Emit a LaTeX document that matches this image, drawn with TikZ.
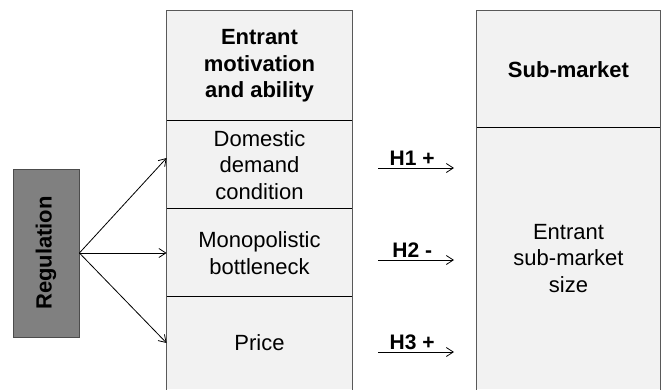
\documentclass[tikz,border=0pt]{standalone}
\usepackage{fontspec}
\setmainfont{Liberation Sans}
\usetikzlibrary{positioning,arrows.meta}

\tikzset{
cell/.style={fill=gray!10,inner sep=0pt,align=center,font=\fontsize{22}{26.5}\selectfont},
head/.style={cell,font=\bfseries\fontsize{22}{26.5}\selectfont},
hyp/.style={font=\bfseries\fontsize{21}{25}\selectfont,inner sep=2pt},
rim/.style={draw=black!65,line width=0.9pt}
}

\begin{document}
\begin{tikzpicture}[x=1pt,y=-1pt,line width=0.8pt,>={Straight Barb[length=7pt,width=9pt,line width=0.8pt]}]
\useasboundingbox (0,0) rectangle (662,389);
% left column
\node[head,minimum width=185,minimum height=110](motiv) at (259.5,66) {Entrant\\motivation\\and ability};
\node[cell,minimum width=185,minimum height=88](dom) at (259.5,165) {Domestic\\demand\\condition};
\node[cell,minimum width=185,minimum height=88](mono) at (259.5,253) {Monopolistic\\bottleneck};
\node[cell,minimum width=185,minimum height=92](price) at (259.5,343) {Price};
\draw[rim] (motiv.west |- 0,390) -- (motiv.north west) -- (motiv.north east) -- (motiv.east |- 0,390);
\draw (dom.north west) -- (dom.north east);
\draw (mono.north west) -- (mono.north east);
\draw (price.north west) -- (price.north east);
% right column
\node[head,minimum width=183,minimum height=117](subm) at (568.5,69.5) {Sub-market};
\node[cell,minimum width=183,minimum height=261](size) at (568.5,258.5) {Entrant\\sub-market\\size};
\draw[rim] (subm.west |- 0,390) -- (subm.north west) -- (subm.north east) -- (subm.east |- 0,390);
\draw (size.north west) -- (size.north east);
% regulation
\node[fill=gray,draw=black!70,rotate=90,minimum width=168,minimum height=66,inner sep=0pt,font=\bfseries\fontsize{22}{26.5}\selectfont](reg) at (46,253) {Regulation};
\path[->]
(reg.south) edge (dom.west |- 0,158)
(reg.south) edge (mono.west |- 0,253)
(reg.south) edge (price.west |- 0,343);
% hypotheses
\coordinate(h1a) at (378,168);
\coordinate(h1b) at (454,168);
\coordinate(h2a) at (378,260);
\coordinate(h2b) at (454,260);
\coordinate(h3a) at (378,352);
\coordinate(h3b) at (454,352);
\path[->]
(h1a) edge node[hyp,above,pos=0.45] {H1 +} (h1b)
(h2a) edge node[hyp,above,pos=0.45] {H2 -} (h2b)
(h3a) edge node[hyp,above,pos=0.45] {H3 +} (h3b);
\end{tikzpicture}
\end{document}
